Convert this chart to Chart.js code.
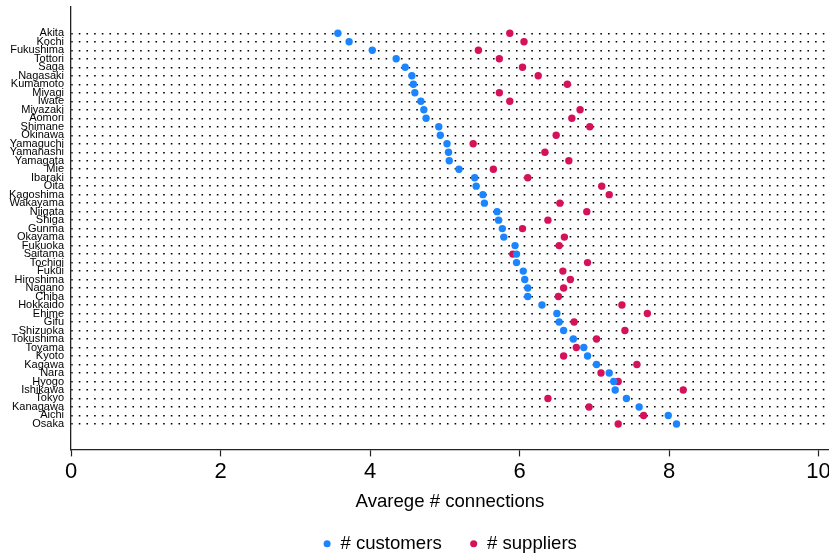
<!DOCTYPE html>
<html>
<head>
<meta charset="utf-8">
<script src="https://cdn.jsdelivr.net/npm/chart.js@4/dist/chart.umd.min.js"></script>
<style>
  html, body { margin: 0; padding: 0; background: #fff; }
  #wrap { width: 829px; height: 558px; }
</style>
</head>
<body>
<div id="wrap"><canvas id="c" width="829" height="558"></canvas></div>
<script>
// Prefectures, sorted by average number of customers
const prefectures = [
  'Akita', 'Kochi', 'Fukushima', 'Tottori', 'Saga', 'Nagasaki', 'Kumamoto', 'Miyagi',
  'Iwate', 'Miyazaki', 'Aomori', 'Shimane', 'Okinawa', 'Yamaguchi', 'Yamanashi', 'Yamagata',
  'Mie', 'Ibaraki', 'Oita', 'Kagoshima', 'Wakayama', 'Niigata', 'Shiga', 'Gunma',
  'Okayama', 'Fukuoka', 'Saitama', 'Tochigi', 'Fukui', 'Hiroshima', 'Nagano', 'Chiba',
  'Hokkaido', 'Ehime', 'Gifu', 'Shizuoka', 'Tokushima', 'Toyama', 'Kyoto', 'Kagawa',
  'Nara', 'Hyogo', 'Ishikawa', 'Tokyo', 'Kanagawa', 'Aichi', 'Osaka'
];

// Average # customers per firm
const customers = [
  3.57, 3.72, 4.03, 4.35, 4.47, 4.56, 4.58, 4.60,
  4.68, 4.72, 4.75, 4.92, 4.94, 5.03, 5.05, 5.06,
  5.19, 5.40, 5.42, 5.51, 5.53, 5.70, 5.72, 5.77,
  5.79, 5.94, 5.96, 5.96, 6.05, 6.07, 6.11, 6.11,
  6.30, 6.50, 6.53, 6.59, 6.72, 6.86, 6.91, 7.03,
  7.20, 7.26, 7.28, 7.43, 7.60, 7.99, 8.10
];

// Average # suppliers per firm
const suppliers = [
  5.87, 6.06, 5.45, 5.73, 6.04, 6.25, 6.64, 5.73,
  5.87, 6.81, 6.70, 6.94, 6.49, 5.38, 6.34, 6.66,
  5.65, 6.11, 7.10, 7.20, 6.54, 6.90, 6.38, 6.04,
  6.60, 6.53, 5.91, 6.91, 6.58, 6.68, 6.59, 6.52,
  7.37, 7.71, 6.73, 7.41, 7.03, 6.76, 6.59, 7.57,
  7.09, 7.32, 8.19, 6.38, 6.93, 7.66, 7.32
];

const xTicks = [0, 2, 4, 6, 8, 10];

const FONT = "'Liberation Sans', Arial, Helvetica, sans-serif";
const NARROW = "'Liberation Sans Narrow', 'Arial Narrow', 'Liberation Sans', Arial, sans-serif";
const BLUE = '#1A85FF';
const RED = '#D41159';

const toPoints = (vals) => vals.map((v, i) => ({ x: v, y: i }));

new Chart(document.getElementById('c'), {
  type: 'scatter',
  data: {
    datasets: [
      {
        label: '# customers',
        data: toPoints(customers),
        backgroundColor: BLUE,
        borderColor: BLUE,
        borderWidth: 0,
        pointRadius: 3.7,
        pointHoverRadius: 3.7,
        pointStyle: 'circle'
      },
      {
        label: '# suppliers',
        data: toPoints(suppliers),
        backgroundColor: RED,
        borderColor: RED,
        borderWidth: 0,
        pointRadius: 3.7,
        pointHoverRadius: 3.7,
        pointStyle: 'circle'
      }
    ]
  },
  options: {
    responsive: false,
    animation: false,
    devicePixelRatio: 1,
    layout: { autoPadding: false, padding: { top: 7, bottom: -5, left: 0, right: 0 } },
    plugins: {
      tooltip: { enabled: false },
      legend: {
        position: 'bottom',
        fullSize: false,
        labels: {
          usePointStyle: true,
          boxWidth: 8,
          boxHeight: 5,
          padding: 28,
          color: '#000',
          font: { family: FONT, size: 18.6 }
        }
      }
    },
    scales: {
      x: {
        type: 'linear',
        position: 'bottom',
        min: 0,
        max: 10.14,
        afterBuildTicks: (s) => { s.ticks = xTicks.map(v => ({ value: v })); },
        afterFit: (s) => { s.height = 57; s.paddingLeft = 0; s.paddingRight = 0; },
        grid: { drawOnChartArea: false, drawTicks: true, tickLength: 7, tickColor: '#222', tickWidth: 1.2 },
        border: { display: true, color: '#222', width: 1.3 },
        ticks: { color: '#000', padding: 2, maxRotation: 0, font: { family: NARROW, size: 22 } },
        title: {
          display: true,
          text: 'Avarege # connections',
          color: '#000',
          font: { family: FONT, size: 18.6 },
          padding: { top: 0, bottom: -7 }
        }
      },
      y: {
        type: 'linear',
        reverse: true,
        min: -3.1,
        max: 49.0,
        afterBuildTicks: (s) => { s.ticks = prefectures.map((_, i) => ({ value: i })); },
        afterFit: (s) => { s.width = 71; s.paddingTop = 0; s.paddingBottom = 0; },
        grid: { drawTicks: false, color: '#000', lineWidth: 1.4 },
        border: { display: true, color: '#222', width: 1.3, dash: [1.6, 6.07], dashOffset: 0.2 },
        ticks: {
          autoSkip: false,
          padding: 7,
          color: '#000',
          font: { family: FONT, size: 11 },
          callback: (v) => prefectures[v]
        }
      }
    }
  }
});
</script>
</body>
</html>
